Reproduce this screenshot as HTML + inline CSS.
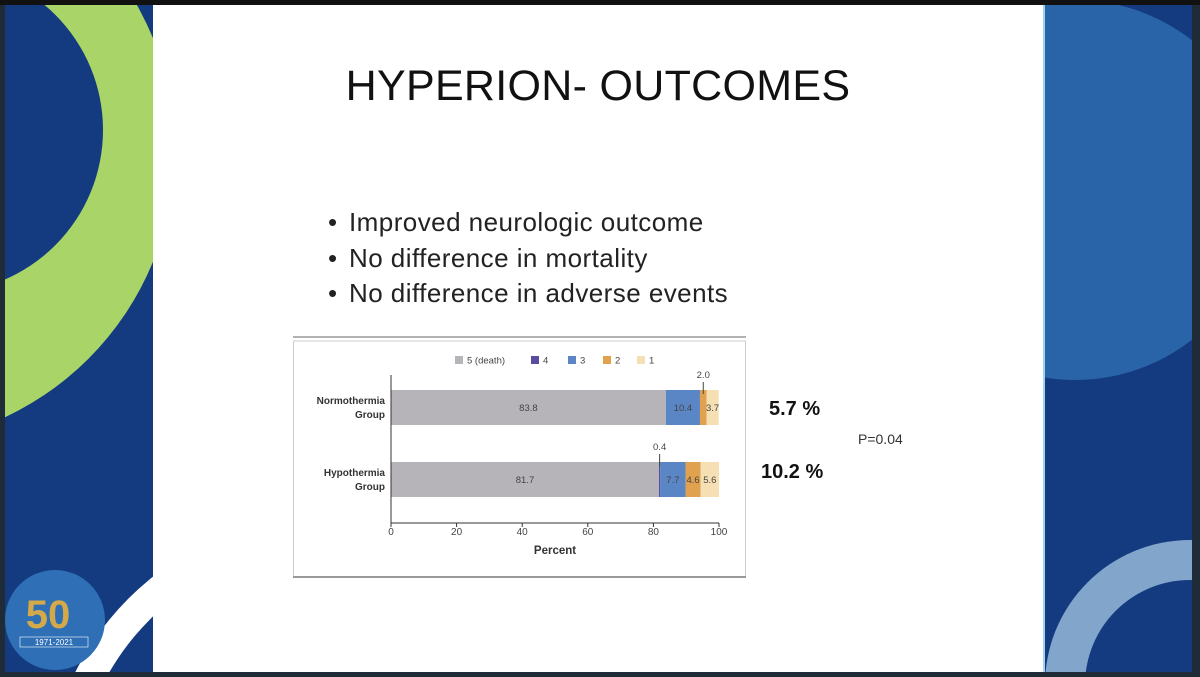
<!DOCTYPE html>
<html><head><meta charset="utf-8">
<style>
html,body{margin:0;width:1200px;height:677px;overflow:hidden}
body{background:#1f2b36;font-family:"Liberation Sans",sans-serif;position:relative}
.abs{position:absolute}
.bl{position:relative;padding-left:21px}
.bl:before{content:"•";position:absolute;left:0;top:0}
</style></head><body>
<svg class="abs" style="left:0;top:0" width="1200" height="677">
  <rect x="0" y="0" width="1200" height="5" fill="#111"/>
  <g>
    <clipPath id="lc"><rect x="5" y="5" width="148" height="667"/></clipPath>
    <g clip-path="url(#lc)">
      <rect x="5" y="5" width="148" height="667" fill="#143a80"/>
      <circle cx="-120" cy="150" r="295" fill="#a8d468"/>
      <circle cx="-60" cy="130" r="163" fill="#143a80"/>
      <circle cx="330" cy="800" r="285" fill="#fff"/>
      <circle cx="330" cy="800" r="255" fill="#143a80"/>
      <circle cx="55" cy="620" r="50" fill="#2e6fb5"/>
      <text x="48" y="628" font-size="40" font-weight="bold" fill="#d4a94a" text-anchor="middle">50</text>
      <rect x="20" y="637" width="68" height="10" fill="none" stroke="#fff" stroke-width="0.6"/>
      <text x="54" y="645" font-size="8" fill="#fff" text-anchor="middle">1971-2021</text>
    </g>
  </g>
  <rect x="153" y="5" width="890" height="667" fill="#fff"/>
  <g>
    <clipPath id="rc"><rect x="1043" y="5" width="149" height="667"/></clipPath>
    <g clip-path="url(#rc)">
      <rect x="1043" y="5" width="149" height="667" fill="#143a80"/>
      <circle cx="1075" cy="190" r="190" fill="#2a64a8"/>
      <circle cx="1190" cy="685" r="145" fill="#82a5cb"/>
      <circle cx="1190" cy="685" r="105" fill="#143a80"/>
    </g>
    <rect x="1043" y="5" width="2" height="667" fill="#9fd3f0"/>
  </g>
  <rect x="0" y="672" width="1200" height="5" fill="#1f2b36"/>
</svg>

<div class="abs" style="left:153px;width:890px;top:62px;text-align:center;font-size:43px;color:#111;letter-spacing:0.3px">HYPERION- OUTCOMES</div>
<div class="abs" style="left:328px;top:205px;font-size:26px;color:#222;line-height:35.5px;letter-spacing:0.45px;white-space:nowrap">
  <div class="bl">Improved neurologic outcome</div>
  <div class="bl">No difference in mortality</div>
  <div class="bl">No difference in adverse events</div>
</div>

<svg class="abs" style="left:0;top:0" width="1200" height="677" id="chart">
  <line x1="293" y1="337" x2="746" y2="337" stroke="#999" stroke-width="1.5"/>
  <rect x="293.5" y="341" width="452" height="236" fill="none" stroke="#ccc" stroke-width="1"/>
  <line x1="293" y1="577" x2="746" y2="577" stroke="#999" stroke-width="2"/>
  <g id="legend"></g>
  <g id="bars"></g>
  <g id="axis"></g>
  <text x="555" y="554" font-size="11.5" font-weight="bold" fill="#333" text-anchor="middle">Percent</text>
</svg>

<div class="abs" style="left:769px;top:398px;font-size:20px;font-weight:bold;color:#111">5.7 %</div>
<div class="abs" style="left:761px;top:461px;font-size:20px;font-weight:bold;color:#111">10.2 %</div>
<div class="abs" style="left:858px;top:431px;font-size:14px;color:#333">P=0.04</div>

<script>
const groups=["Normothermia Group","Hypothermia Group"];
const categories=["5 (death)","4","3","2","1"];
const normoValues=[83.8,0,10.4,2.0,3.7];
const hypoValues=[81.7,0.4,7.7,4.6,5.6];
const tickLabels=[0,20,40,60,80,100];
const colors=["#b6b4b9","#5a4c9e","#5b86c6","#e0a24f","#f6e0b3"];
const NS="http://www.w3.org/2000/svg";
const x0=391,x1=719;
const xs=v=>x0+(x1-x0)*v/100;
function mk(tag,attrs,parent,txt){const e=document.createElementNS(NS,tag);for(const k in attrs)e.setAttribute(k,attrs[k]);if(txt!==undefined)e.textContent=txt;parent.appendChild(e);return e;}
const lg=document.getElementById('legend');
const lgX=[455,531,568,603,637];
categories.forEach((c,i)=>{
  const r=mk('rect',{x:lgX[i],y:356,width:8,height:8,fill:colors[i]},lg);
  
  
  const t=mk('text',{x:lgX[i]+12,y:363.5,'font-size':9.5,fill:'#444'},lg,c);
  
  
});
const series=[normoValues,hypoValues];
const barY=[390,462],barH=35;
const bg=document.getElementById('bars');
series.forEach((vals,g)=>{
  const lines=groups[g].split(' ');
  const l1=mk('text',{x:385,y:barY[g]+14,'font-size':10,'font-weight':'bold',fill:'#333','text-anchor':'end'},bg,lines[0]);
  
  
  mk('text',{x:385,y:barY[g]+28,'font-size':10,'font-weight':'bold',fill:'#333','text-anchor':'end'},bg,lines[1]);
  let cum=0;
  vals.forEach((v,i)=>{
    if(v<=0){return;}
    const xa=xs(cum),xb=xs(cum+v);
    const r=mk('rect',{x:xa,y:barY[g],width:xb-xa,height:barH,fill:colors[i]},bg);
    
    
    const mid=(xa+xb)/2;
    if(v>=3){
      mk('text',{x:mid,y:barY[g]+21,'font-size':9.5,fill:'#444','text-anchor':'middle'},bg,v.toFixed(1));
    }else{
      mk('line',{x1:mid,y1:barY[g]-8,x2:mid,y2:barY[g]+4,stroke:'#444','stroke-width':1},bg);
      mk('text',{x:mid,y:barY[g]-12,'font-size':9.5,fill:'#444','text-anchor':'middle'},bg,v.toFixed(1));
    }
    cum+=v;
  });
});
const ax=document.getElementById('axis');
mk('line',{x1:x0,y1:375,x2:x0,y2:523,stroke:'#333','stroke-width':1},ax);
mk('line',{x1:x0,y1:523,x2:x1,y2:523,stroke:'#333','stroke-width':1},ax);
tickLabels.forEach(t=>{
  mk('line',{x1:xs(t),y1:523,x2:xs(t),y2:527,stroke:'#333'},ax);
  const tx=mk('text',{x:xs(t),y:535,'font-size':10,fill:'#444','text-anchor':'middle'},ax,t);
  
  
});
</script>
</body></html>
